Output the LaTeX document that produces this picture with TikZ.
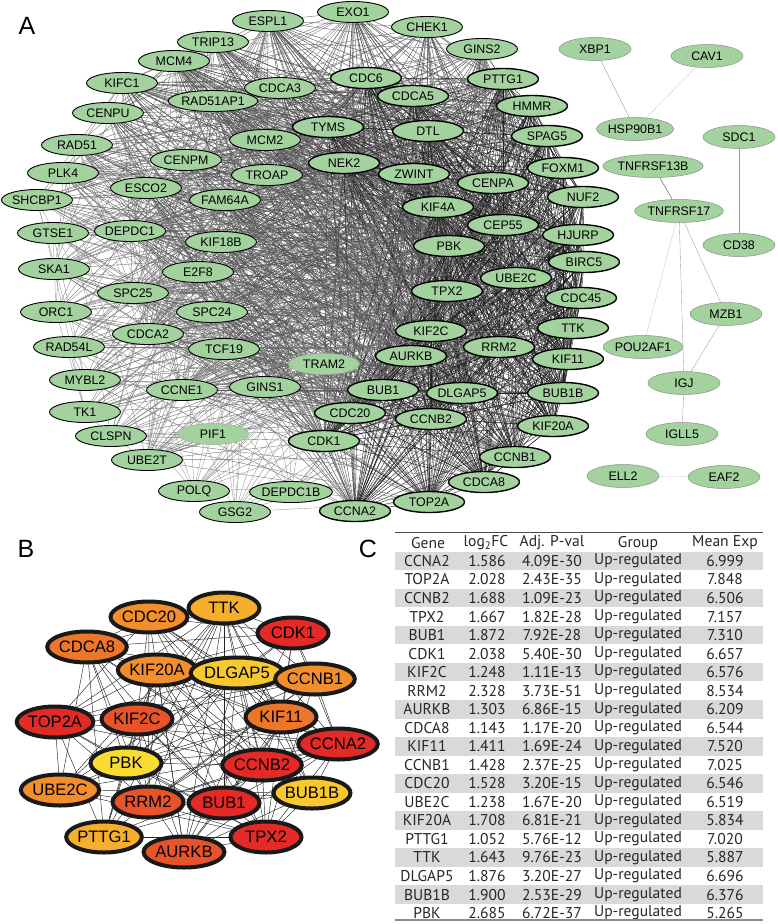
\documentclass[tikz,border=0pt]{standalone}
\usepackage{fontspec}
\setmainfont{Liberation Sans}
\newfontfamily\tabfont{PT Sans}
\usetikzlibrary{shapes.geometric}
\pgfdeclarelayer{background}
\pgfsetlayers{background,main}
\definecolor{leaf}{HTML}{A3D29F}
\definecolor{heat1}{HTML}{E42A26}
\definecolor{heat2}{HTML}{E8532A}
\definecolor{heat3}{HTML}{EE7629}
\definecolor{heat4}{HTML}{F28E2B}
\definecolor{heat5}{HTML}{F6AE2D}
\definecolor{heat6}{HTML}{F8C92F}
\definecolor{heat7}{HTML}{F9DC31}
\def\cluster{ESPL1/268/21/0.7, EXO1/353/12/0.7, CHEK1/427/27/0.7, GINS2/482/49/0.7,
TRIP13/213/42/0.7, MCM4/174/61/0.7, KIFC1/122/83/0.7, CDCA3/280/88/0.7,
CDC6/366/78/1, PTTG1/503/79/1, CDCA5/413/96/1, RAD51AP1/213/101/0.7,
HMMR/532/106/1, CENPU/108/113/0.6, RAD51/77/145/0.6, MCM2/265/140/0.7,
TYMS/328/127/1, DTL/428/131/1, SPAG5/547/136/1, CENPM/186/160/0.7,
TROAP/267/175/0.7, NEK2/344/163/1, ZWINT/414/174/1, FOXM1/563/168/1,
CENPA/493/183/1, PLK4/63/173/0.6, ESCO2/146/188/0.7, FAM64A/225/200/0.7,
NUF2/583/197/1, SHCBP1/37/200/0.45, KIF4A/438/207/1, CEP55/503/225/1,
GTSE1/53/233/0.45, DEPDC1/130/231/0.7, KIF18B/221/242/0.7, HJURP/578/235/1,
PBK/449/246/1, BIRC5/584/262/1, SKA1/54/269/0.45, E2F8/198/272/0.7,
UBE2C/516/278/1, TPX2/447/291/1, CDC45/581/298/1, SPC25/133/293/0.6,
SPC24/212/312/0.7, ORC1/56/312/0.45, TTK/573/328/1, CDCA2/148/334/0.6,
TCF19/224/349/0.6, RAD54L/69/347/0.45, KIF2C/431/331/1, RRM2/499/347/1,
KIF11/568/359/1, AURKB/411/356/1, TRAM2/324/364/0.15, MYBL2/85/380/0.45,
CCNE1/182/390/0.6, GINS1/265/387/0.6, BUB1/383/390/1, DLGAP5/462/393/1,
BUB1B/563/393/1, TK1/85/412/0.45, CDC20/350/413/1, CCNB2/431/419/1,
KIF20A/553/426/1, CLSPN/111/436/0.45, PIF1/213/434/0.15, CDK1/324/441/1,
CCNB1/515/457/1, UBE2T/147/460/0.4, CDCA8/484/482/1, POLQ/194/491/0.2,
DEPDC1B/291/492/0.25, GSG2/235/512/0.2, CCNA2/355/511/1, TOP2A/429/502/1}
\def\hubs{TTK/224/608/heat5, CDC20/149/617/heat4, CDK1/293/633/heat1,
CDCA8/87/647/heat3, KIF20A/157/670/heat4, DLGAP5/237/673/heat6,
CCNB1/315/679/heat4, TOP2A/55/722/heat1, KIF2C/137/719/heat2,
KIF11/281/717/heat3, CCNA2/338/744/heat1, PBK/126/763/heat7,
CCNB2/262/765/heat1, UBE2C/60/790/heat4, BUB1B/312/793/heat6,
RRM2/148/802/heat2, BUB1/224/803/heat1, PTTG1/104/837/heat5,
TPX2/266/837/heat1, AURKB/184/852/heat2}

\begin{document}
\begin{tikzpicture}[x=1pt,y=-1pt]
\tikzstyle{gene}=[ellipse, draw=black, line width=0.9pt, fill=leaf, minimum width=71, minimum height=21, inner sep=0pt, font=\fontsize{12.4}{13}\selectfont]
\tikzstyle{hub}=[gene, line width=1.4pt]
\tikzstyle{faint}=[gene, draw=black!35, line width=0.5pt]
\tikzstyle{lone}=[gene, draw=black!45, line width=0.5pt, minimum width=72, minimum height=23]
\tikzstyle{link}=[line width=0.4pt]
\tikzstyle{core}=[ellipse, draw=black!90, line width=4pt, minimum width=71, minimum height=31, inner sep=0pt, font=\fontsize{16.6}{17}\selectfont]
\tikzstyle{panel}=[inner sep=0pt, font=\fontsize{25}{26}\selectfont]
\tikzstyle{cell}=[inner sep=0pt, text=black!85, font=\tabfont\fontsize{15.6}{16}\selectfont]
\tikzstyle{band}=[fill=black!15]

\useasboundingbox (0,0) rectangle (777,924);

\node[panel] (labA) at (27,26) {A};
\node[panel] (labB) at (26,549) {B};
\node[panel] (labC) at (368,549) {C};

\foreach \g/\x/\y/\w in \cluster {
  \ifdim\w pt>0.9pt \def\sty{hub}\else\ifdim\w pt<0.18pt \def\sty{faint}\else\def\sty{gene}\fi\fi
  \node[\sty] (\g) at (\x,\y) {\g};
}

\node[lone] (XBP1) at (595,49) {XBP1};
\node[lone] (CAV1) at (707,56) {CAV1};
\node[lone] (HSP90B1) at (635,129) {HSP90B1};
\node[lone] (SDC1) at (739,137) {SDC1};
\node[lone] (TNFRSF13B) at (653,166) {TNFRSF13B};
\node[lone] (TNFRSF17) at (679,211) {TNFRSF17};
\node[lone] (CD38) at (739,245) {CD38};
\node[lone] (MZB1) at (726,314) {MZB1};
\node[lone] (POU2AF1) at (643,347) {POU2AF1};
\node[lone] (IGJ) at (684,383) {IGJ};
\node[lone] (IGLL5) at (682,434) {IGLL5};
\node[lone] (ELL2) at (623,476) {ELL2};
\node[lone] (EAF2) at (724,477) {EAF2};

\foreach \g/\x/\y/\c in \hubs {
  \node[core, fill=\c] (b\g) at (\x,\y) {\g};
}

\begin{pgfonlayer}{background}
\pgfmathsetseed{42}
\foreach \a/\xa/\ya/\wa [count=\i] in \cluster {
  \foreach \b/\xb/\yb/\wb [count=\j] in \cluster {
    \ifnum\j>\i
      \pgfmathparse{rnd<0.95*\wa*\wb}
      \ifdim\pgfmathresult pt>0.5pt
        \pgfmathtruncatemacro\tone{28+60*\wa*\wb}
        \draw[link, draw=black!\tone] (\a) -- (\b);
      \fi
    \fi
  }
}
\draw[link, black!45] (XBP1) -- (HSP90B1);
\draw[link, black!20] (CAV1) -- (HSP90B1);
\draw[link, black!40] (SDC1) -- (CD38);
\draw[link, black!70] (TNFRSF13B) -- (TNFRSF17);
\draw[link, black!20] (TNFRSF17) -- (POU2AF1);
\draw[link, black!35] (TNFRSF17) -- (IGJ);
\draw[link, black!35] (TNFRSF17) -- (MZB1);
\draw[link, black!35] (MZB1) -- (IGJ);
\draw[link, black!35] (IGJ) -- (IGLL5);
\draw[link, black!15] (ELL2) -- (EAF2);

\foreach \a/\xa/\ya/\ca [count=\i] in \hubs {
  \foreach \b/\xb/\yb/\cb [count=\j] in \hubs {
    \ifnum\j>\i
      \pgfmathparse{rnd<0.75}
      \ifdim\pgfmathresult pt>0.5pt
        \draw[line width=0.45pt, black!85] (b\a) -- (b\b);
      \fi
    \fi
  }
}
\end{pgfonlayer}

\draw[line width=1pt, black!70] (395,532) -- (763,532);
\foreach \h/\x in {Gene/428, log\textsubscript{2}FC/486, Adj. P-val/552, Group/638, Mean Exp/725} {
  \node[cell] (head\x) at (\x,543) {\h};
}
\foreach \g/\fc/\pv/\me [count=\r] in {CCNA2/1.586/4.09E-30/6.999, TOP2A/2.028/2.43E-35/7.848,
  CCNB2/1.688/1.09E-23/6.506, TPX2/1.667/1.82E-28/7.157, BUB1/1.872/7.92E-28/7.310,
  CDK1/2.038/5.40E-30/6.657, KIF2C/1.248/1.11E-13/6.576, RRM2/2.328/3.73E-51/8.534,
  AURKB/1.303/6.86E-15/6.209, CDCA8/1.143/1.17E-20/6.544, KIF11/1.411/1.69E-24/7.520,
  CCNB1/1.428/2.37E-25/7.025, CDC20/1.528/3.20E-15/6.546, UBE2C/1.238/1.67E-20/6.519,
  KIF20A/1.708/6.81E-21/5.834, PTTG1/1.052/5.76E-12/7.020, TTK/1.643/9.76E-23/5.887,
  DLGAP5/1.876/3.20E-27/6.696, BUB1B/1.900/2.53E-29/6.376, PBK/2.685/6.72E-37/5.265} {
  \pgfmathsetmacro\ry{561+(\r-1)*18.53}
  \ifodd\r \fill[band] (395,\ry-9.27) rectangle (763,\ry+9.27); \fi
  \node[cell] (gene\r) at (427,\ry) {\g};
  \node[cell] (fc\r) at (487,\ry) {\fc};
  \node[cell] (pv\r) at (552,\ry) {\pv};
  \node[cell] (grp\r) at (638,\ry) {Up-regulated};
  \node[cell] (me\r) at (725,\ry) {\me};
}
\draw[line width=1.2pt, black!45] (395,920) -- (763,920);
\end{tikzpicture}
\end{document}
